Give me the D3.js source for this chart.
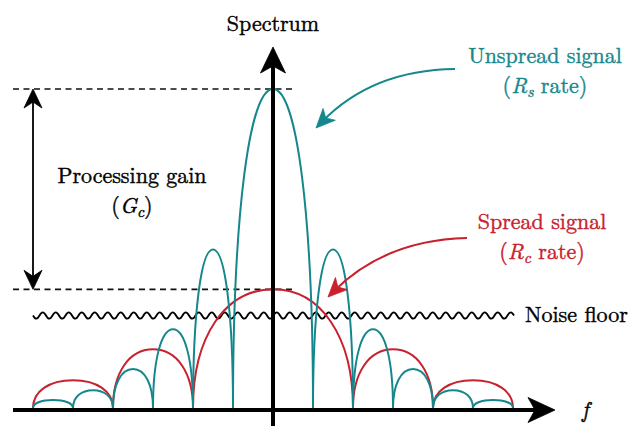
<!DOCTYPE html>
<html>
<head>
<meta charset="utf-8">
<script src="https://cdn.jsdelivr.net/npm/d3@7"></script>
<style>
  html, body { margin: 0; padding: 0; background: #fff; }
  svg { display: block; }
</style>
</head>
<body>
<svg id="svg" width="633" height="426"></svg>
<script>
// lobe edges (in units of the symbol rate Rs) and relative peak heights
const unspreadEdges = [-6, -5, -4, -3, -2, -1, 1, 2, 3, 4, 5, 6];
const unspreadPeaks = [0.025, 0.056, 0.122, 0.247, 0.497, 1.0, 0.497, 0.247, 0.122, 0.056, 0.025];
const spreadEdges = [-6, -4, -2, 2, 4, 6];
const spreadPeaks = [0.087, 0.184, 0.372, 0.184, 0.087];
const noiseLevel = 0.29;

const TEAL = '#15878c';
const RED = '#c8202d';
const FONT = "'Latin Modern Roman', 'Liberation Serif', serif";

const svg = d3.select('#svg');

const x = d3.scaleLinear().domain([-6, 6]).range([33, 513]);
const y = d3.scaleLinear().domain([0, 1]).range([408, 89]);
const x0 = x(0);

// arch between two zeros, peak at the middle
function lobePath(a, b, peak) {
  const xa = x(a), xb = x(b), xm = (xa + xb) / 2, hw = (xb - xa) / 2;
  const yb = y(0), yt = y(peak), h = yb - yt, k = 0.6;
  const p = d3.path();
  p.moveTo(xa, yb);
  p.bezierCurveTo(xa, yb - k * h, xm - k * hw, yt, xm, yt);
  p.bezierCurveTo(xm + k * hw, yt, xb, yb - k * h, xb, yb);
  return p.toString();
}

function lobes(edges, peaks) {
  return peaks.map((pk, i) => ({ a: edges[i], b: edges[i + 1], peak: pk }));
}

// stealth arrow head, tip at (tx,ty), pointing along angle (radians)
function arrowHead(g, tx, ty, ang, L, W, N, color) {
  const pts = [[0, 0], [-L, W], [-L + N, 0], [-L, -W]];
  const c = Math.cos(ang), s = Math.sin(ang);
  const d = 'M' + pts.map(([px, py]) => [tx + px * c - py * s, ty + px * s + py * c].join(',')).join('L') + 'Z';
  g.append('path').attr('d', d).attr('fill', color).attr('stroke', color)
    .attr('stroke-width', 0.8).attr('stroke-linejoin', 'round');
}

// dashed reference lines at the two peak levels
const dashLevels = [d3.max(unspreadPeaks), d3.max(spreadPeaks)];
svg.append('g').selectAll('line').data(dashLevels).join('line')
  .attr('x1', 13).attr('x2', 296)
  .attr('y1', d => y(d)).attr('y2', d => y(d))
  .attr('stroke', '#111').attr('stroke-width', 1.6).attr('stroke-dasharray', '6,4.5');

// processing gain double arrow
const gx = 33;
svg.append('line').attr('x1', gx).attr('x2', gx)
  .attr('y1', y(dashLevels[0]) + 12).attr('y2', y(dashLevels[1]) - 12)
  .attr('stroke', '#000').attr('stroke-width', 1.8);
arrowHead(svg, gx, y(dashLevels[0]), -Math.PI / 2, 19, 9, 6, '#000');
arrowHead(svg, gx, y(dashLevels[1]), Math.PI / 2, 19, 9, 6, '#000');

// noise floor (wavy)
const wave = d3.path();
const wy = y(noiseLevel);
wave.moveTo(33, wy);
let wx = 33;
for (let i = 0; i < 74; i++) {
  const dir = i % 2 === 0 ? 1 : -1;
  wave.bezierCurveTo(wx + 2.2, wy + dir * 4.2, wx + 4.3, wy + dir * 4.2, wx + 6.5, wy);
  wx += 6.5;
}
svg.append('path').attr('d', wave.toString()).attr('fill', 'none')
  .attr('stroke', '#000').attr('stroke-width', 1.8);

// spectra
svg.append('g').selectAll('path').data(lobes(spreadEdges, spreadPeaks)).join('path')
  .attr('d', d => lobePath(d.a, d.b, d.peak))
  .attr('fill', 'none').attr('stroke', RED).attr('stroke-width', 2);
svg.append('g').selectAll('path').data(lobes(unspreadEdges, unspreadPeaks)).join('path')
  .attr('d', d => lobePath(d.a, d.b, d.peak))
  .attr('fill', 'none').attr('stroke', TEAL).attr('stroke-width', 2);

// axes
svg.append('line').attr('x1', 13).attr('x2', 535).attr('y1', 410).attr('y2', 410)
  .attr('stroke', '#000').attr('stroke-width', 4);
svg.append('line').attr('x1', x0).attr('x2', x0).attr('y1', 426).attr('y2', 66)
  .attr('stroke', '#000').attr('stroke-width', 4);
arrowHead(svg, 555, 410, 0, 27, 12.5, 7, '#000');
arrowHead(svg, x0, 47, -Math.PI / 2, 26, 12.5, 7, '#000');

// curved callout arrows
function callout(sx, sy, cx, cy, ex, ey, color) {
  const ang = Math.atan2(ey - cy, ex - cx);
  const p = d3.path();
  p.moveTo(sx, sy);
  p.quadraticCurveTo(cx, cy, ex - 8 * Math.cos(ang), ey - 8 * Math.sin(ang));
  svg.append('path').attr('d', p.toString()).attr('fill', 'none')
    .attr('stroke', color).attr('stroke-width', 2);
  arrowHead(svg, ex, ey, ang, 19, 8.5, 5, color);
}
callout(455, 69, 372, 70, 316, 128, TEAL);
callout(467, 238, 385, 240, 328, 297, RED);

// labels
function label(tx, ty, anchor, color, parts) {
  const t = svg.append('text').attr('x', tx).attr('y', ty)
    .attr('text-anchor', anchor).attr('fill', color)
    .attr('stroke', color).attr('stroke-width', 0.4)
    .attr('font-family', FONT).attr('font-size', 22);
  parts.forEach(p => {
    const ts = t.append('tspan').text(p.t);
    if (p.i) ts.attr('font-style', 'italic');
    if (p.sub) ts.attr('font-size', 15.5).attr('dy', 3.5);
    if (p.up) ts.attr('dy', -3.5);
  });
}
label(x0, 31, 'middle', '#000', [{ t: 'Spectrum' }]);
label(545, 63, 'middle', TEAL, [{ t: 'Unspread signal' }]);
label(545, 93, 'middle', TEAL, [{ t: '(' }, { t: 'R', i: true }, { t: 's', i: true, sub: true }, { t: ' rate)', up: true }]);
label(542, 229, 'middle', RED, [{ t: 'Spread signal' }]);
label(542, 259, 'middle', RED, [{ t: '(' }, { t: 'R', i: true }, { t: 'c', i: true, sub: true }, { t: ' rate)', up: true }]);
label(132, 183, 'middle', '#000', [{ t: 'Processing gain' }]);
label(132, 213, 'middle', '#000', [{ t: '(' }, { t: 'G', i: true }, { t: 'c', i: true, sub: true }, { t: ')', up: true }]);
label(525, 322, 'start', '#000', [{ t: 'Noise floor' }]);
label(582, 417, 'start', '#000', [{ t: 'f', i: true }]);
</script>
</body>
</html>
